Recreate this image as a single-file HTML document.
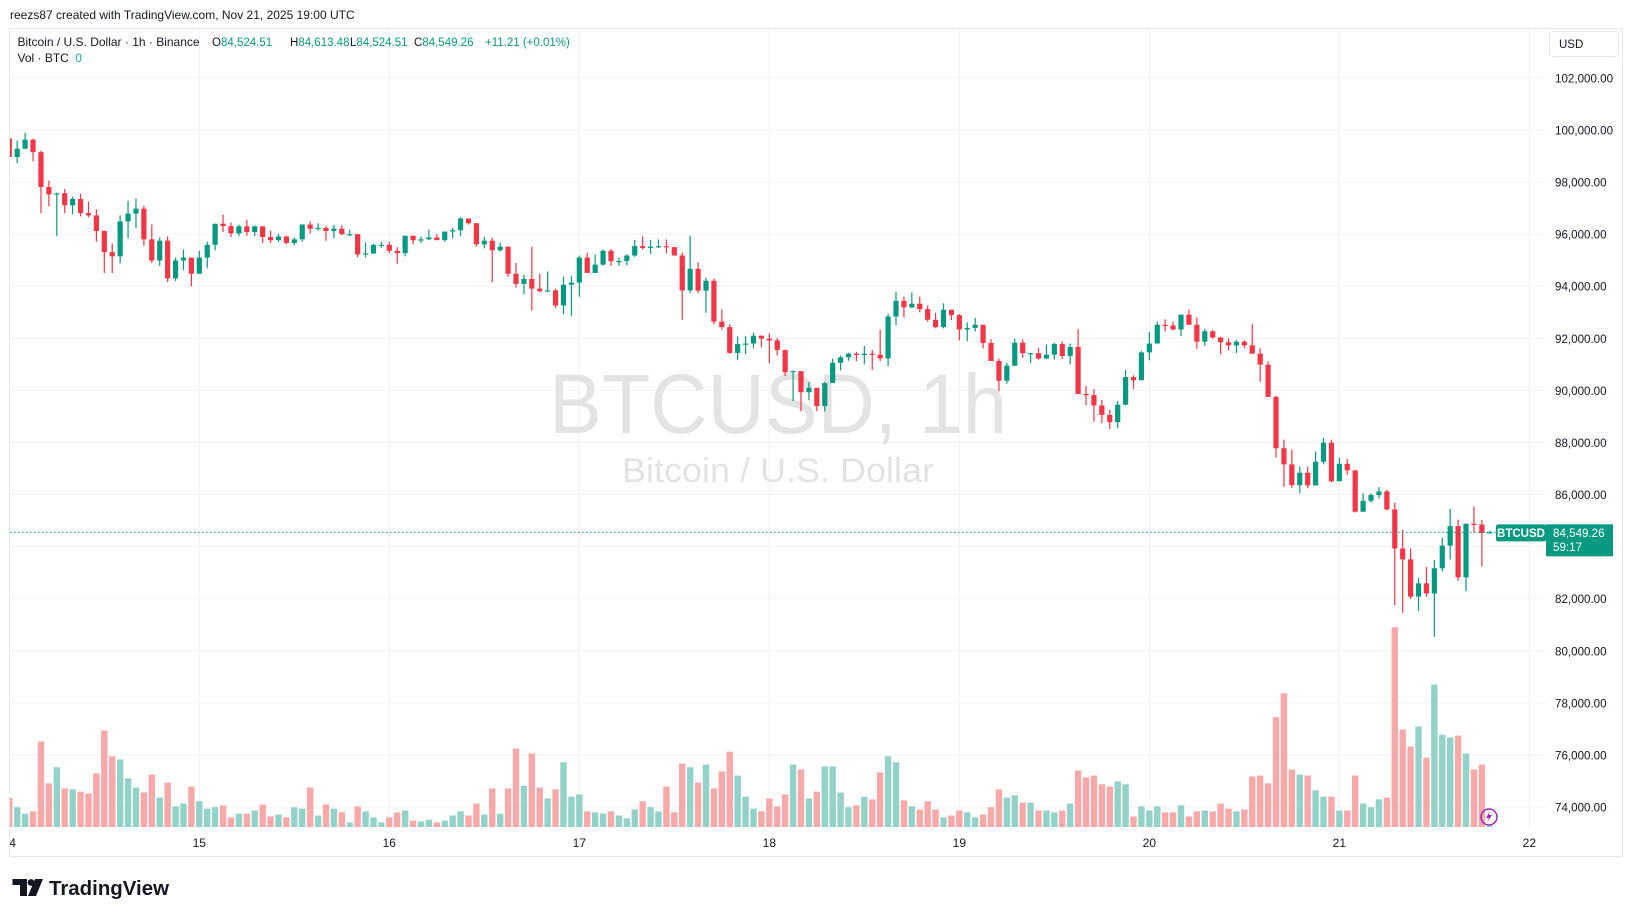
<!DOCTYPE html>
<html><head><meta charset="utf-8"><style>
html,body{margin:0;padding:0;background:#fff;}
svg{display:block;font-family:"Liberation Sans",sans-serif;}
</style></head><body>
<svg id="chart" width="1634" height="917" viewBox="0 0 1634 917" xmlns="http://www.w3.org/2000/svg">
<defs><clipPath id="plotClip"><rect x="10" y="29" width="1536" height="800"/></clipPath>
<clipPath id="axisClip"><rect x="10" y="829" width="1536" height="27"/></clipPath></defs>
<text x="10" y="19" font-size="12" fill="#131722">reezs87 created with TradingView.com, Nov 21, 2025 19:00 UTC</text>
<rect x="9.5" y="28.5" width="1613" height="828" fill="none" stroke="#e6e8ee"/>
<g id="grid"></g>
<g fill="#e3e3e3" text-anchor="middle">
<text x="778" y="433" font-size="84" textLength="458" lengthAdjust="spacingAndGlyphs">BTCUSD, 1h</text>
<text x="778" y="482" font-size="34" textLength="312" lengthAdjust="spacingAndGlyphs">Bitcoin / U.S. Dollar</text>
</g>
<g id="vols" clip-path="url(#plotClip)"></g>
<g id="candles" clip-path="url(#plotClip)"></g>
<g id="yaxis" font-size="11.6" fill="#131722"></g>
<g id="xaxis" font-size="12" fill="#131722" text-anchor="middle" clip-path="url(#axisClip)"></g>
<g font-size="12">
<text x="17.5" y="46" fill="#131722">Bitcoin / U.S. Dollar · 1h · Binance</text>
<text x="212" y="46" fill="#131722" font-size="11.5">O<tspan fill="#089981">84,524.51</tspan></text>
<text x="290" y="46" fill="#131722" font-size="11.5">H<tspan fill="#089981">84,613.48</tspan></text>
<text x="350" y="46" fill="#131722" font-size="11.5">L<tspan fill="#089981">84,524.51</tspan></text>
<text x="414" y="46" fill="#131722" font-size="11.5">C<tspan fill="#089981">84,549.26</tspan></text>
<text x="485" y="46" fill="#089981" font-size="11.5">+11.21 (+0.01%)</text>
<text x="17.5" y="62" fill="#131722">Vol · BTC <tspan fill="#22ab94" dx="3">0</tspan></text>
</g>
<g>
<rect x="1549.5" y="31.5" width="69" height="25" rx="4" fill="#fff" stroke="#e6e8ee"/>
<text x="1559" y="48" font-size="11.5" fill="#131722">USD</text>
</g>
<g id="lastPrice"></g>
<g>
<circle cx="1489" cy="817" r="8" fill="none" stroke="#9c27b0" stroke-width="1.5"/>
<path d="M1490 811 L1486 818 L1489 818 L1487 823 L1492 815 L1489 815 Z" fill="#9c27b0"/>
</g>
<g>
<path d="M12.5 879 H27 V896 H20 V885 H12.5 Z" fill="#131722"/>
<circle cx="31" cy="882.5" r="3.4" fill="#131722"/>
<path d="M35 879 H43 L36 896 H28 Z" fill="#131722"/>
<text x="49" y="895" font-size="20" font-weight="bold" fill="#131722" textLength="120" lengthAdjust="spacingAndGlyphs">TradingView</text>
</g>
</svg>
<script>
const firstOpen = 99680;
const closes = [98960,99280,99630,99150,97810,97530,97570,97110,97350,96810,96720,96120,95310,95150,96490,96790,96980,95800,94990,95750,94300,94990,95100,94480,95100,95590,96400,96310,96030,96300,96080,96300,95890,95770,95910,95660,95800,96370,96210,96240,96120,96210,96000,96000,95220,95260,95590,95590,95360,95270,95940,95770,95800,95870,95770,96100,96150,96600,96420,95610,95750,95380,95520,94480,94090,94280,93910,93810,93840,93260,94060,94140,95100,94510,94830,95360,94960,94970,95180,95540,95470,95520,95540,95500,95180,93840,94670,93830,94210,92640,92430,91440,91780,91800,92100,91990,91920,91550,90700,90740,89930,90100,89400,90280,91060,91270,91410,91360,91410,91370,91230,92840,93440,93190,93330,93120,92710,92430,93100,92890,92340,92400,92520,91820,91130,90370,90950,91830,91430,91430,91220,91370,91780,91320,91670,89860,89820,89420,89060,88780,89450,90510,90390,91460,91800,92520,92490,92340,92910,92520,91870,92270,92030,91850,91730,91870,91730,91410,90990,89750,87780,87160,86360,86840,86350,87260,87990,86510,87180,86930,85340,85760,85980,86120,85430,83930,83510,82080,82590,82200,83170,84040,84790,82820,84880,84850,84524.51,84549.26];
const highs = [99680,99590,99890,99670,99210,98060,97600,97740,97440,97550,97250,96950,96140,95640,96720,97280,97370,97090,96370,95870,95910,95100,95410,95100,95360,95710,96400,96750,96440,96370,96560,96330,96310,96140,96010,95940,95870,96380,96490,96420,96300,96350,96330,96170,96010,95680,95630,95710,95710,95500,95940,95940,95910,96170,96000,96100,96240,96650,96600,96420,95890,95850,95680,95520,94900,94440,95520,94480,94570,93910,94370,94390,95180,95290,95220,95410,95430,95100,95220,95780,95910,95780,95800,95800,95520,95290,95940,94920,94320,94300,93100,92540,92080,92080,92220,92110,92190,92010,91570,90760,90720,90320,90070,90330,91220,91340,91440,91480,91710,91550,92330,92940,93790,93600,93760,93600,93260,92980,93350,93100,92930,92610,92790,92520,91960,91220,91060,91990,91960,91440,91620,91760,91830,91870,91800,92360,90170,90050,89630,89260,89590,90790,90580,91520,92240,92640,92730,92640,92910,93100,92800,92360,92330,92060,91990,91940,91920,92540,91620,91110,89800,88110,87720,87070,87070,87650,88180,88110,87420,87370,86950,86050,86050,86290,86190,85690,84640,83930,82800,83220,83490,84340,85450,85040,84880,85540,85020,84613.48];
const lows = [98920,98730,99280,98800,96810,97070,95930,96810,96770,96680,96650,95710,94510,94510,94880,95840,96240,95550,94900,94780,94160,94200,94620,94000,94480,94690,95380,96080,95890,95930,95930,95930,95660,95660,95700,95610,95570,95710,96030,96140,95750,95840,95960,95930,95110,95110,95240,95480,95270,94870,95150,95610,95660,95770,95770,95710,95840,95930,96370,95520,95450,94160,95330,94360,93950,93690,93070,93760,93790,93160,92930,92860,93600,94510,94510,94800,94780,94780,94810,95130,95410,95240,95470,95260,95180,92710,93740,93740,92980,92540,92340,91410,91160,91390,91620,91660,91040,91340,90550,89590,89190,89630,89200,89190,90280,90770,91140,91130,91000,90790,91130,90930,92500,92800,93160,93000,92640,92380,92380,92700,91920,91890,92260,91620,91130,89980,90260,90930,91250,91060,91180,91220,91180,91200,91000,89860,89430,88800,88750,88520,88550,89420,90050,90390,91160,91800,92270,92310,92080,92520,91600,91710,91990,91390,91530,91430,91620,91410,90330,89750,87420,86290,86260,86050,86240,86350,87160,86470,86510,86770,85310,85340,85690,85850,85390,81740,81460,81990,81530,82080,80540,83050,83510,82690,82290,84550,83240,84524.51];
const volumes = [64,43,29,34,186,95,130,84,82,77,73,117,210,154,147,106,86,75,114,64,97,45,51,88,56,40,43,47,21,29,29,36,49,23,27,21,43,40,86,25,49,40,32,10,45,34,21,10,21,32,36,14,12,16,10,14,25,34,25,51,27,84,29,84,171,90,160,86,62,82,141,66,71,34,32,29,34,25,19,38,56,43,34,88,32,138,130,97,136,84,121,164,112,66,40,34,62,45,71,136,125,62,77,132,132,75,43,47,66,60,119,154,141,58,45,38,56,38,21,25,36,32,21,27,43,82,64,69,53,53,36,36,32,36,51,123,108,112,93,88,99,93,23,45,36,45,32,32,47,23,34,36,34,51,40,34,38,110,112,95,239,291,125,114,112,80,66,66,36,36,112,51,43,60,64,435,212,175,219,151,310,201,195,199,160,125,136,3];
const priceTicks = [102000,100000,98000,96000,94000,92000,90000,88000,86000,84000,82000,80000,78000,76000,74000];
const dayLabels = ["14","15","16","17","18","19","20","21","22"];
const lastPrice = 84549.26;
const lastPriceLabel = "84,549.26";
const countdown = "59:17";

const NS = "http://www.w3.org/2000/svg";
function yPrice(p){ return 130 + (100000 - p) / 1000 * 26.04; }
function xHour(i){ return 9.3 + 7.917 * i; }
function xDay(d){ return xHour(d * 24); }
function yVol(v){ return 827 - v * 0.4593; }
function mk(tag, attrs, parent){ const e = document.createElementNS(NS, tag); for (const k in attrs) e.setAttribute(k, attrs[k]); parent.appendChild(e); return e; }
function fmt(p){ return p.toLocaleString("en-US",{minimumFractionDigits:2,maximumFractionDigits:2}); }

const grid = document.getElementById("grid");
const yaxis = document.getElementById("yaxis");
priceTicks.forEach(p => {
  const y = yPrice(p);
  const gl = mk("line", {x1:10, x2:1546, y1:y, y2:y, stroke:"#f2f2f4", "stroke-width":1}, grid);
  
  
  const t = mk("text", {x:1555, y:y+4.5}, yaxis);
  t.textContent = fmt(p);
  
  
});
const xaxis = document.getElementById("xaxis");
dayLabels.forEach((lab, d) => {
  const x = xDay(d);
  if (d > 0) {
    const gl = mk("line", {x1:x, x2:x, y1:29, y2:829, stroke:"#f0f1f4", "stroke-width":1}, grid);
    
    
  }
  const t = mk("text", {x:x, y:847}, xaxis);
  t.textContent = lab;
  
  
});

const candles = document.getElementById("candles");
const vols = document.getElementById("vols");
closes.forEach((c, i) => {
  const o = i === 0 ? firstOpen : closes[i-1];
  const up = c >= o;
  const col = up ? "#089981" : "#F23645";
  const x = xHour(i);
  const g = mk("g", {}, candles);
  
  
  mk("line", {x1:x, x2:x, y1:yPrice(Math.max(highs[i], o, c)), y2:yPrice(Math.min(lows[i], o, c)), stroke:col, "stroke-width":1.2}, g);
  const top = yPrice(Math.max(o, c)), bot = yPrice(Math.min(o, c));
  mk("rect", {x:x-2.6, y:top, width:5.2, height:Math.max(1.2, bot-top), fill:col}, g);
  const vb = mk("rect", {x:x-3.2, y:yVol(volumes[i]), width:6.4, height:827-yVol(volumes[i]), fill: up ? "#92d2c8" : "#f7a9a9"}, vols);
  
  
});

const lp = document.getElementById("lastPrice");
const ly = yPrice(lastPrice);
const dl = mk("line", {x1:10, x2:1496, y1:ly, y2:ly, stroke:"#089981", "stroke-width":1, "stroke-dasharray":"1.5 2.5"}, lp);


const sym = mk("rect", {x:1496, y:ly-8, width:50, height:17, rx:2, fill:"#089981"}, lp);


const st = mk("text", {x:1521, y:ly+4.5, "font-size":11.5, "font-weight":"bold", fill:"#fff", "text-anchor":"middle"}, lp);
st.textContent = "BTCUSD";


const pb = mk("rect", {x:1546, y:ly-8, width:67, height:32, fill:"#089981"}, lp);


const pt = mk("text", {x:1553, y:ly+4.5, "font-size":11.6, fill:"#fff"}, lp);
pt.textContent = lastPriceLabel;


const ct = mk("text", {x:1553, y:ly+18.5, "font-size":11.6, fill:"#fff"}, lp);
ct.textContent = countdown;


</script>
</body></html>
